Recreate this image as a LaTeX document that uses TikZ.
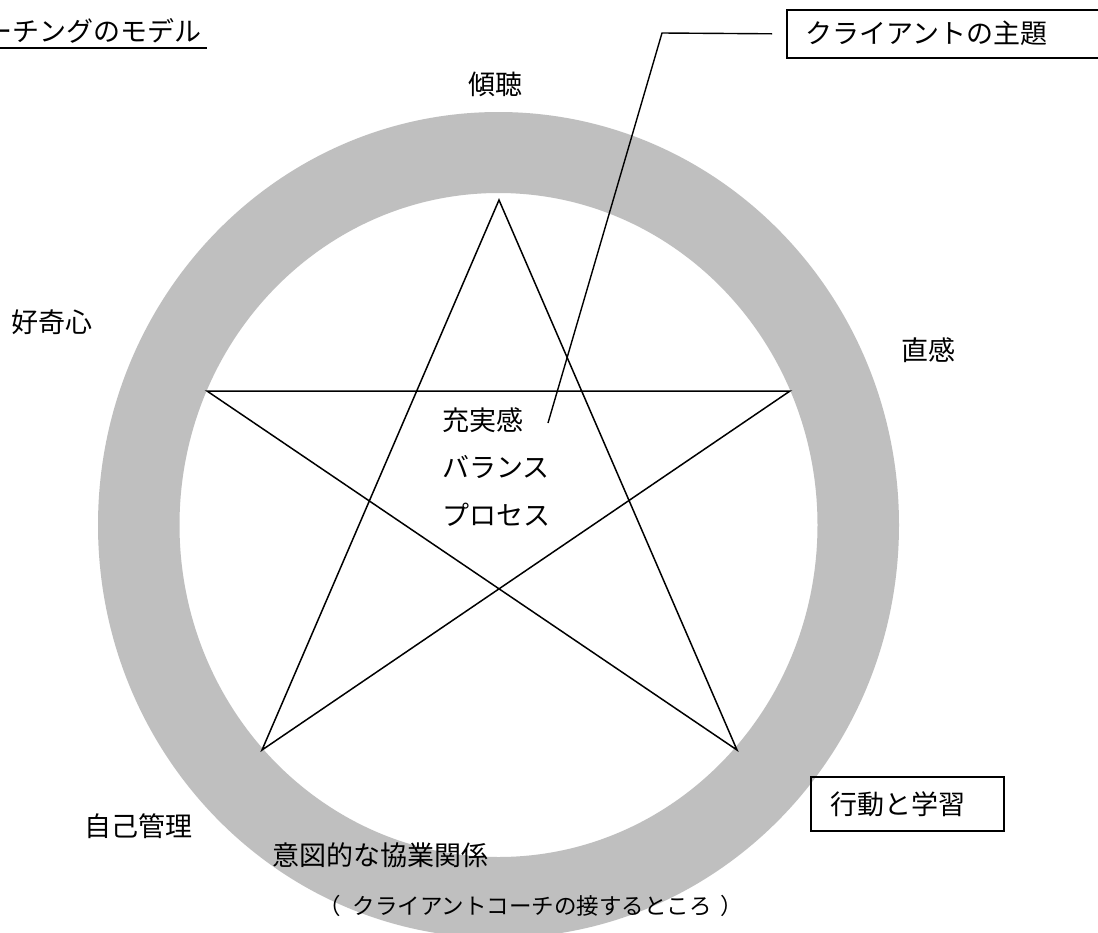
\documentclass[tikz,border=0pt]{standalone}
\usepackage{fontspec}
\newfontfamily\jp{Noto Sans CJK JP}
\definecolor{ringgray}{RGB}{191,191,191}
\tikzset{
  lbl/.style={font=\jp\fontsize{27}{32}\selectfont, inner sep=0pt, text=black},
  small/.style={font=\jp\fontsize{22.5}{27}\selectfont, inner sep=0pt, text=black},
  boxed/.style={lbl, draw=black, line width=1.6pt, inner ysep=0pt, align=left},
  starline/.style={draw=black, line width=1.5pt, line join=miter},
  leader/.style={draw=black, line width=1.4pt},
}
\begin{document}
\begin{tikzpicture}[x=1pt,y=-1pt]
\useasboundingbox (0,0) rectangle (1098,932);
\fill[white] (0,0) rectangle (1098,932);
% ring
\fill[ringgray, even odd rule] (498.5,525) ellipse [x radius=400.5pt, y radius=413pt]
  (498.5,525) ellipse [x radius=319pt, y radius=332pt];
% star
\coordinate (st) at (499,200);
\coordinate (sl) at (207,391);
\coordinate (sr) at (790,391);
\coordinate (sbl) at (262,750);
\coordinate (sbr) at (737,750);
\draw[starline] (st) -- (sbl) -- (sr) -- (sl) -- (sbr) -- cycle;
% title
\node[lbl, anchor=base east] (title) at (202,41) {ーチングのモデル};
\draw[line width=1.5pt] (title.base west |- 0,48) -- (207,48);
% labels
\node[lbl, anchor=base] (keicho) at (495,94) {傾聴};
\node[lbl, anchor=base west] (kokishin) at (11,332) {好奇心};
\node[lbl, anchor=base] (chokkan) at (928,360) {直感};
\node[lbl, anchor=base west] (jujitsu) at (442,430) {充実感};
\node[lbl, anchor=base west] (balance) at (442,477) {バランス};
\node[lbl, anchor=base west] (process) at (442,525) {プロセス};
\node[lbl, anchor=base west] (jiko) at (84,836) {自己管理};
\node[lbl, anchor=base west] (ito) at (272,865) {意図的な協業関係};
\node[small, anchor=base west] (sessuru) at (318,914) {（\kern12ptクライアントコーチの接するところ\kern9pt）};
% boxes
\node[boxed, anchor=north west, inner xsep=19pt, text width=300pt, minimum height=48pt] (shudai) at (786,9) {クライアントの主題};
\node[boxed, anchor=north west, inner xsep=20pt, text width=153pt, minimum height=54pt] (kodo) at (810,776) {行動と学習};
% leader
\coordinate (leadend) at (548,423);
\coordinate (leadbend) at (662,33);
\path (shudai.west) ++(-14pt,0) coordinate (leadstart);
\draw[leader] (leadstart) -- (leadbend) -- (leadend);
\end{tikzpicture}
\end{document}
